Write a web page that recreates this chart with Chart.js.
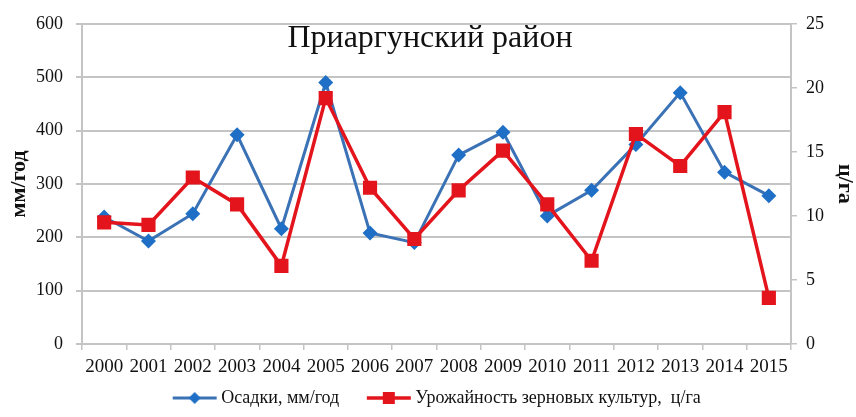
<!DOCTYPE html>
<html>
<head>
<meta charset="utf-8">
<script src="https://cdn.jsdelivr.net/npm/chart.js@4/dist/chart.umd.min.js"></script>
<style>
  html, body { margin: 0; padding: 0; background: #fff; }
  #wrap { width: 856px; height: 417px; }
</style>
</head>
<body>
<div id="wrap"><canvas id="chart" width="856" height="417"></canvas></div>
<script>
// years along x
const years = ['2000','2001','2002','2003','2004','2005','2006','2007',
               '2008','2009','2010','2011','2012','2013','2014','2015'];
// precipitation, mm/year (left axis)
const osadki = [238, 193, 244, 392, 216, 490, 208, 190,
                354, 397, 240, 288, 374, 471, 322, 278];
// grain yield, c/ha (right axis)
const urozhai = [9.5, 9.3, 13.0, 10.9, 6.1, 19.2, 12.2, 8.2,
                 12.0, 15.1, 10.9, 6.5, 16.4, 13.9, 18.1, 3.6];

const titleText = 'Приаргунский район';
const leftTitle = 'мм/год';
const rightTitle = 'ц/га';
const nameOsadki = 'Осадки, мм/год';
const nameUrozhai = 'Урожайность зерновых культур,  ц/га';

const BLUE = '#3b72b6';
const BLUE_MARK = '#1f6fc6';
const RED = '#e3141b';
const GRID = '#c4c4c4';
const SERIF = '"Liberation Serif", "Times New Roman", serif';

// legend swatch: line with marker, drawn in the right part of a wider image
// so there's a gap before it and it sits close to the label text
function swatch(color, markColor, lineW, shape) {
  const c = document.createElement('canvas');
  c.width = 70; c.height = 16;
  const g = c.getContext('2d');
  const x0 = 24, x1 = 68, mid = (x0 + x1) / 2;
  g.strokeStyle = color; g.lineWidth = lineW;
  g.beginPath(); g.moveTo(x0, 8); g.lineTo(x1, 8); g.stroke();
  g.fillStyle = markColor;
  if (shape === 'diamond') {
    g.beginPath(); g.moveTo(mid, 2); g.lineTo(mid + 6, 8); g.lineTo(mid, 14); g.lineTo(mid - 6, 8); g.closePath(); g.fill();
  } else {
    g.fillRect(mid - 6, 2, 12, 12);
  }
  return c;
}

// title sits inside the plot, near the top
const titleInside = {
  id: 'titleInside',
  afterDraw(chart) {
    const ctx = chart.ctx;
    ctx.save();
    ctx.font = '32px ' + SERIF;
    ctx.fillStyle = '#111';
    ctx.textAlign = 'center';
    ctx.textBaseline = 'alphabetic';
    ctx.fillText(titleText, 430, 47);
    ctx.restore();
  }
};

new Chart(document.getElementById('chart'), {
  type: 'line',
  data: {
    labels: years,
    datasets: [
      {
        label: nameOsadki,
        data: osadki,
        yAxisID: 'y',
        borderColor: BLUE,
        backgroundColor: BLUE_MARK,
        borderWidth: 3,
        pointStyle: 'rectRot',
        pointRadius: 7.5,
        pointHoverRadius: 7.5,
        pointBorderWidth: 0,
        tension: 0,
        order: 2
      },
      {
        label: nameUrozhai,
        data: urozhai,
        yAxisID: 'y1',
        borderColor: RED,
        backgroundColor: RED,
        borderWidth: 3.5,
        pointStyle: 'rect',
        pointRadius: 10,
        pointHoverRadius: 10,
        pointBorderWidth: 0,
        tension: 0,
        order: 1
      }
    ]
  },
  options: {
    responsive: false,
    animation: false,
    layout: { padding: { left: 0, right: 0, top: 22, bottom: 0 } },
    plugins: {
      title: { display: false },
      tooltip: { enabled: false },
      legend: {
        position: 'bottom',
        labels: {
          font: { family: SERIF, size: 18 },
          color: '#111',
          usePointStyle: true,
          pointStyleWidth: 57,
          boxHeight: 14,
          padding: 10,
          generateLabels(chart) {
            return chart.data.datasets.map((ds, i) => ({
              text: ds.label,
              fontColor: '#111',
              pointStyle: swatch(ds.borderColor, ds.backgroundColor, ds.borderWidth, i === 0 ? 'diamond' : 'rect'),
              datasetIndex: i,
              hidden: false,
              lineWidth: 0
            }));
          }
        }
      }
    },
    scales: {
      x: {
        offset: true,
        afterFit(s) { s.height = 35; },
        grid: { offset: true, drawOnChartArea: false, color: GRID, lineWidth: 1.5, tickLength: 6 },
        border: { color: GRID, width: 2 },
        ticks: { font: { family: SERIF, size: 19 }, color: '#111', maxRotation: 0, autoSkip: false, padding: 6 }
      },
      y: {
        position: 'left',
        min: 0, max: 600,
        afterFit(s) { s.width = 82; },
        ticks: { stepSize: 100, font: { family: SERIF, size: 18 }, color: '#111', padding: 13 },
        grid: { color: GRID, lineWidth: 2, tickLength: 6 },
        border: { color: GRID, width: 2 },
        title: { display: true, text: leftTitle, font: { family: SERIF, size: 22, weight: 'bold', lineHeight: 1.2 }, color: '#111', padding: 6 }
      },
      y1: {
        position: 'right',
        min: 0, max: 25,
        afterFit(s) { s.width = 65; },
        ticks: { stepSize: 5, font: { family: SERIF, size: 18 }, color: '#111', padding: 9 },
        grid: { drawOnChartArea: false, color: GRID, lineWidth: 1.5, tickLength: 6 },
        border: { color: GRID, width: 2 },
        title: { display: true, text: rightTitle, font: { family: SERIF, size: 22, weight: 'bold', lineHeight: 1 }, color: '#111', padding: 0 }
      }
    }
  },
  plugins: [titleInside]
});
</script>
</body>
</html>
